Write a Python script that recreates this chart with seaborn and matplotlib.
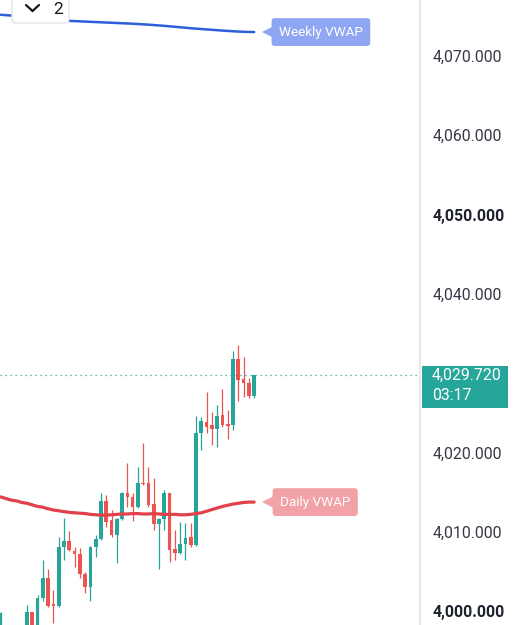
import matplotlib
matplotlib.use('Agg')
import matplotlib.pyplot as plt
from matplotlib.patches import Rectangle, FancyBboxPatch
import matplotlib.transforms as mtransforms
import numpy as np
import pandas as pd
import seaborn as sns

up_color = '#26a69a'
down_color = '#ef5350'
textcolor = '#2a2e39'

# candles, one per bar index (0 = leftmost, partially cut off at the bottom)
opens = [3997.5, 3997.0, 3996.6, 3997.1, 3996.9, 3997.8, 3999.88, 3997.9, 4001.65, 4004.17,
         4000.9, 4000.64, 4008.08, 4008.83, 4007.58, 4007.20, 4004.68, 4003.04, 4008.08, 4009.09,
         4013.88, 4011.49, 4009.59, 4011.61, 4014.89, 4014.39, 4013.12, 4016.10, 4016.15, 4013.50,
         4010.98, 4011.61, 4014.89, 4007.83, 4007.32, 4008.46, 4009.34, 4008.33, 4022.46, 4023.84,
         4023.47, 4022.96, 4024.73, 4023.50, 4023.47, 4031.79, 4029.27, 4028.76, 4027.12]
highs = [3999.9, 3997.8, 3997.4, 3997.9, 3998.1, 4000.77, 3999.95, 4002.03, 4006.44, 4005.31,
         4002.66, 4009.34, 4011.74, 4010.10, 4008.08, 4007.95, 4004.93, 4008.20, 4009.59, 4014.89,
         4014.64, 4012.75, 4011.70, 4015.00, 4018.67, 4014.89, 4018.17, 4021.20, 4018.17, 4016.78,
         4011.70, 4015.27, 4014.95, 4010.22, 4011.23, 4011.11, 4011.11, 4024.60, 4024.48, 4027.63,
         4025.11, 4025.99, 4028.01, 4025.36, 4032.80, 4033.55, 4032.04, 4029.39, 4029.80]
lows = [3997.0, 3996.2, 3995.8, 3996.5, 3996.4, 3997.5, 3997.5, 3997.5, 4001.27, 4000.50,
        3998.50, 4000.50, 4006.44, 4007.60, 4005.56, 4004.17, 4002.28, 4001.27, 4006.82, 4009.00,
        4010.60, 4009.34, 4006.06, 4011.50, 4013.12, 4011.36, 4013.00, 4015.90, 4013.12, 4010.22,
        4005.31, 4010.22, 4006.19, 4006.44, 4007.20, 4006.44, 4008.10, 4008.20, 4020.31, 4022.46,
        4020.94, 4020.69, 4023.21, 4021.70, 4022.84, 4026.49, 4027.00, 4026.87, 4026.87]
closes = [3999.76, 3996.6, 3997.1, 3996.9, 3997.8, 3999.88, 3997.9, 4001.65, 4004.17, 4000.64,
          4000.7, 4008.08, 4008.83, 4007.70, 4007.20, 4004.68, 4003.04, 4008.08, 4009.09, 4013.88,
          4011.23, 4009.59, 4011.61, 4014.89, 4014.39, 4013.12, 4016.15, 4016.00, 4013.38, 4010.98,
          4011.61, 4014.89, 4007.70, 4007.32, 4008.46, 4009.21, 4008.33, 4022.46, 4023.97, 4023.21,
          4022.96, 4024.60, 4023.47, 4023.40, 4031.79, 4029.14, 4028.76, 4027.12, 4029.72]

weekly_vwap = [4075.20, 4075.15, 4075.10, 4075.05, 4075.00, 4074.95, 4074.88, 4074.80, 4074.72, 4074.65,
               4074.58, 4074.52, 4074.47, 4074.43, 4074.40, 4074.37, 4074.34, 4074.31, 4074.28, 4074.25,
               4074.22, 4074.19, 4074.16, 4074.13, 4074.10, 4074.07, 4074.03, 4073.99, 4073.95, 4073.90,
               4073.85, 4073.80, 4073.74, 4073.68, 4073.62, 4073.56, 4073.50, 4073.45, 4073.40, 4073.35,
               4073.30, 4073.25, 4073.20, 4073.16, 4073.12, 4073.08, 4073.05, 4073.03, 4073.02]
daily_vwap = [4014.40, 4014.20, 4014.00, 4013.90, 4013.70, 4013.60, 4013.40, 4013.20, 4013.10, 4012.90,
              4012.75, 4012.65, 4012.55, 4012.45, 4012.40, 4012.35, 4012.30, 4012.20, 4012.15, 4012.10,
              4012.10, 4012.15, 4012.20, 4012.25, 4012.25, 4012.30, 4012.30, 4012.25, 4012.25, 4012.30,
              4012.25, 4012.20, 4012.20, 4012.20, 4012.15, 4012.15, 4012.20, 4012.30, 4012.40, 4012.60,
              4012.80, 4013.00, 4013.20, 4013.35, 4013.50, 4013.60, 4013.70, 4013.75, 4013.75]

last_price = 4029.72
countdown = '03:17'
price_ticks = [4000, 4010, 4020, 4040, 4050, 4060, 4070]
price_labels = ['4,000.000', '4,010.000', '4,020.000', '4,040.000', '4,050.000', '4,060.000', '4,070.000']
bold_labels = ['4,000.000', '4,050.000']

sns.set_style('white', rc={'axes.facecolor': 'white', 'figure.facecolor': 'white'})
plt.rcParams['font.family'] = ['Roboto', 'DejaVu Sans']

df = pd.DataFrame({'bar': np.arange(len(opens)), 'open': opens, 'high': highs,
                   'low': lows, 'close': closes, 'weekly': weekly_vwap, 'daily': daily_vwap})
df['color'] = np.where(df.close >= df.open, up_color, down_color)

fig = plt.figure(figsize=(5.16, 6.25), dpi=100)
ax = fig.add_axes([0, 0, 420 / 516, 1])

# wicks and bodies
ax.vlines(df.bar, df.low, df.high, colors=df.color, linewidth=0.9, zorder=2)
body = np.maximum((df.close - df.open).abs(), 0.15)
ax.bar(df.bar, body, bottom=np.minimum(df.open, df.close), width=0.7,
       color=df.color, linewidth=0, zorder=3)

sns.lineplot(data=df, x='bar', y='daily', color='#e0414b', linewidth=2.3, ax=ax, zorder=4)
sns.lineplot(data=df, x='bar', y='weekly', color='#2f5fd8', linewidth=1.8, ax=ax, zorder=4)

ax.set_xlim(-0.11, 79.4)
ax.set_ylim(3998.25, 4077.06)
ax.set_xticks([])
ax.set_xlabel('')
ax.set_ylabel('')

# last price dotted line
ax.axhline(last_price, color=up_color, linestyle=(0, (1, 3)), linewidth=0.9, zorder=1)

# right price scale
ax.yaxis.tick_right()
ax.set_yticks(price_ticks)
ax.set_yticklabels(price_labels)
ax.tick_params(axis='y', length=0, pad=9, labelsize=11.4, labelcolor='#363a45')
for lbl in ax.get_yticklabels():
    if lbl.get_text() in bold_labels:
        lbl.set_fontweight('bold')
        lbl.set_color('#1e222d')
for side in ['top', 'left', 'bottom']:
    ax.spines[side].set_visible(False)
ax.spines['right'].set_color('#e6e8ee')
ax.spines['right'].set_linewidth(1.6)

# VWAP labels with a small pointer
for series, name, fc, xt in [(weekly_vwap, 'Weekly VWAP', '#8fa7f3', 52.7),
                             (daily_vwap, 'Daily VWAP', '#f2a1a6', 52.9)]:
    yv = series[-1]
    ax.plot([50.7], [yv], marker='<', markersize=8.5, color=fc, markeredgewidth=0,
            clip_on=False, zorder=5)
    ax.text(xt, yv, name, color='white', fontsize=9.7, ha='left', va='center', zorder=6,
            bbox=dict(boxstyle='round,pad=0.55,rounding_size=0.25', fc=fc, ec='none'))

# last price box on the scale
trans = mtransforms.blended_transform_factory(ax.transAxes, ax.transData)
ax.add_patch(Rectangle((422 / 420, 4025.61), 86 / 420, 5.3, transform=trans,
                       facecolor=up_color, edgecolor='none', clip_on=False, zorder=6))
ax.text(432 / 420, last_price, '4,029.720', transform=trans, color='white', fontsize=11.4,
        ha='left', va='center', clip_on=False, zorder=7)
ax.text(432 / 420, 4027.2, countdown, transform=trans, color='white', fontsize=11.4,
        ha='left', va='center', clip_on=False, zorder=7)

# collapsed indicator box in the top-left corner
ax.add_patch(FancyBboxPatch((12 / 420, 1 - 23 / 625), 57 / 420, 30 / 625,
                            boxstyle='round,pad=0,rounding_size=0.008', transform=ax.transAxes,
                            facecolor='white', edgecolor='#e3e5ea', linewidth=1.0,
                            clip_on=False, zorder=8))
ax.plot([26 / 420, 32.5 / 420, 39 / 420], [1 - 5 / 625, 1 - 11 / 625, 1 - 5 / 625],
        transform=ax.transAxes, color='#131722', linewidth=1.6, solid_capstyle='round',
        solid_joinstyle='miter', zorder=9)
ax.text(58 / 420, 1 - 14 / 625, '2', transform=ax.transAxes, fontsize=12.5,
        color='#131722', ha='center', va='baseline', zorder=9)

fig.savefig('out.png', dpi=100)
plt.close(fig)
